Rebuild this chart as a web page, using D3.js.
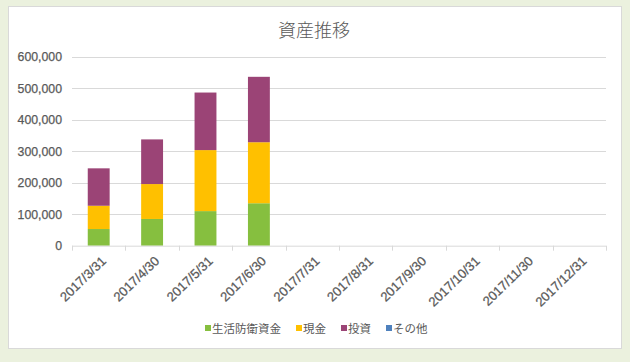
<!DOCTYPE html>
<html>
<head>
<meta charset="utf-8">
<script src="https://cdn.jsdelivr.net/npm/d3@7"></script>
<style>
  html, body { margin: 0; padding: 0; background: #ebf1de; }
  #chart { width: 630px; height: 362px; }
  text { font-family: "Liberation Sans", Arial, sans-serif; fill: #595959; }
  .lbl { stroke: #595959; stroke-width: 0.25px; }
  .jp { font-family: "Noto Sans CJK JP", sans-serif; }
</style>
</head>
<body>
<div id="chart"></div>
<script>
const dates = ["2017/3/31", "2017/4/30", "2017/5/31", "2017/6/30", "2017/7/31",
               "2017/8/31", "2017/9/30", "2017/10/31", "2017/11/30", "2017/12/31"];
const seriesNames = ["生活防衛資金", "現金", "投資", "その他"];
const seriesColors = ["#86bf3f", "#ffc000", "#9b4476", "#4f81bd"];
// values per series (null = no data)
const emergencyFund = [53000, 85000, 110000, 135000, null, null, null, null, null, null];
const cash = [74000, 111000, 194000, 194000, null, null, null, null, null, null];
const investment = [119000, 142000, 183000, 208000, null, null, null, null, null, null];
const other = [0, 0, 0, 0, null, null, null, null, null, null];
const yTicks = [0, 100000, 200000, 300000, 400000, 500000, 600000];

const table = dates.map((d, i) => ({
    date: d,
    s0: emergencyFund[i] || 0,
    s1: cash[i] || 0,
    s2: investment[i] || 0,
    s3: other[i] || 0
}));

const svg = d3.select("#chart").append("svg")
    .attr("width", 630)
    .attr("height", 362);

// chart panel
svg.append("rect")
    .attr("x", 8.5).attr("y", 6.5)
    .attr("width", 613).attr("height", 342)
    .attr("fill", "#fff")
    .attr("stroke", "#d9d9d9");

svg.append("text")
    .attr("class", "jp")
    .attr("x", 314).attr("y", 37)
    .attr("text-anchor", "middle")
    .style("font-size", "18px")
    .style("font-weight", 300)
    .text("資産推移");

const margin = { left: 72, right: 24, top: 57, bottom: 116 };
const width = 630 - margin.left - margin.right;
const height = 362 - margin.top - margin.bottom - 0.3;

const g = svg.append("g")
    .attr("transform", `translate(${margin.left},${margin.top})`);

const x = d3.scaleBand()
    .domain(dates)
    .range([0, width])
    .paddingInner(0.59)
    .paddingOuter(0.295);

const y = d3.scaleLinear()
    .domain([0, 600000])
    .range([height, 0]);

// gridlines
g.selectAll(".grid")
    .data(yTicks.filter(t => t > 0))
    .enter()
    .append("line")
    .attr("x1", 0).attr("x2", width)
    .attr("y1", d => Math.round(y(d)) + 0.5)
    .attr("y2", d => Math.round(y(d)) + 0.5)
    .attr("stroke", "#d9d9d9");

// y axis labels
const yAxis = d3.axisLeft(y)
    .tickValues(yTicks)
    .tickFormat(d3.format(","))
    .tickSize(0)
    .tickPadding(10);

g.append("g")
    .call(yAxis)
    .call(a => a.select(".domain").remove())
    .selectAll("text")
    .attr("class", "lbl")
    .style("font-size", "12.3px")
    .style("fill", "#595959");

// stacked bars
const stack = d3.stack().keys(["s0", "s1", "s2", "s3"]);
const layers = stack(table);

g.selectAll(".layer")
    .data(layers)
    .enter()
    .append("g")
    .attr("fill", (d, i) => seriesColors[i])
    .selectAll("rect")
    .data(d => d)
    .enter()
    .append("rect")
    .attr("x", d => x(d.data.date))
    .attr("y", d => y(d[1]))
    .attr("width", x.bandwidth())
    .attr("height", d => y(d[0]) - y(d[1]));

// x axis
const step = x.step();
const xAxisG = g.append("g")
    .attr("transform", `translate(0,${height})`);

xAxisG.append("line")
    .attr("x1", 0).attr("x2", width)
    .attr("y1", 0.5).attr("y2", 0.5)
    .attr("stroke", "#d9d9d9");

xAxisG.selectAll(".tick")
    .data(d3.range(dates.length + 1))
    .enter()
    .append("line")
    .attr("x1", i => Math.round(i * step) + 0.5)
    .attr("x2", i => Math.round(i * step) + 0.5)
    .attr("y1", 0).attr("y2", 5)
    .attr("stroke", "#d9d9d9");

xAxisG.selectAll(".xlabel")
    .data(dates)
    .enter()
    .append("text")
    .attr("class", "lbl")
    .attr("transform", d => `translate(${x(d) + x.bandwidth() / 2 + 5},${13}) rotate(-44)`)
    .attr("text-anchor", "end")
    .attr("dy", "0.35em")
    .style("font-size", "13px")
    .text(d => d);

// legend
const legend = svg.append("g")
    .attr("transform", "translate(205,329)");

let lx = 0;
seriesNames.forEach((name, i) => {
    const item = legend.append("g").attr("transform", `translate(${lx},0)`);
    item.append("rect")
        .attr("x", 0).attr("y", -4)
        .attr("width", 6).attr("height", 6)
        .attr("fill", seriesColors[i]);
    const t = item.append("text")
        .attr("class", "jp")
        .attr("x", 7).attr("y", 0)
        .attr("dy", "0.35em")
        .style("font-size", "11.5px")
        .text(name);
    lx += 7 + t.node().getComputedTextLength() + 15;
});
</script>
</body>
</html>
